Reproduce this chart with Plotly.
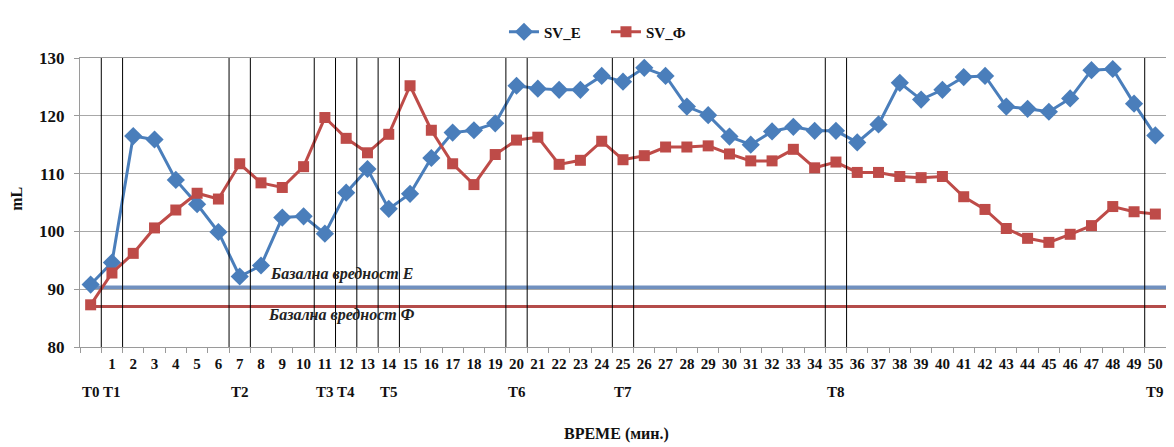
import plotly.graph_objects as go

# ---- data ----
minutes = list(range(0, 51))
tick_labels = [str(i) for i in range(1, 51)]

sv_e = [90.8, 94.6, 116.5, 115.9, 108.9, 104.7, 99.9, 92.2, 94.1, 102.4,
        102.6, 99.6, 106.7, 110.8, 103.9, 106.5, 112.7, 117.1, 117.5, 118.7,
        125.2, 124.7, 124.5, 124.5, 126.9, 125.9, 128.3, 126.9, 121.6, 120.1,
        116.4, 115.0, 117.3, 118.1, 117.4, 117.4, 115.4, 118.5, 125.7, 122.8,
        124.5, 126.7, 126.9, 121.6, 121.2, 120.7, 123.0, 127.9, 128.1, 122.1,
        116.6]
sv_f = [87.3, 92.8, 96.2, 100.6, 103.7, 106.6, 105.6, 111.7, 108.4, 107.6,
        111.2, 119.7, 116.1, 113.6, 116.8, 125.2, 117.5, 111.7, 108.1, 113.3,
        115.8, 116.3, 111.6, 112.3, 115.6, 112.4, 113.1, 114.6, 114.6, 114.8,
        113.4, 112.2, 112.2, 114.2, 111.0, 112.0, 110.2, 110.2, 109.5, 109.3,
        109.5, 106.0, 103.8, 100.5, 98.8, 98.1, 99.5, 101.0, 104.3, 103.4,
        103.0]

baseline_e = 90.3
baseline_f = 87.0

t_names = ["T0", "T1", "T2", "T3", "T4", "T5", "T6", "T7", "T8", "T9"]
t_minutes = [0, 1, 7, 11, 12, 14, 20, 25, 35, 50]

BLUE = "#4A7EBB"
RED = "#BE4B48"
FONT = "Liberation Serif, Times New Roman, serif"

fig = go.Figure()

fig.add_trace(go.Scatter(
    x=minutes, y=sv_e, mode="lines+markers", name="SV_E",
    line=dict(color=BLUE, width=3),
    marker=dict(symbol="diamond", size=14, color=BLUE),
))
fig.add_trace(go.Scatter(
    x=minutes, y=sv_f, mode="lines+markers", name="SV_Ф",
    line=dict(color=RED, width=3),
    marker=dict(symbol="square", size=11, color=RED),
))

xmin, xmax = -0.5, 50.5

# vertical marker lines around each T point
bounds = sorted({t + d for t in t_minutes for d in (-0.5, 0.5)})
for b in bounds:
    if xmin < b < xmax:
        fig.add_shape(type="line", x0=b, x1=b, y0=80, y1=130, xref="x", yref="y",
                      line=dict(color="black", width=1), layer="above")

# baseline lines
fig.add_shape(type="line", x0=0, x1=xmax, y0=baseline_e, y1=baseline_e,
              xref="x", yref="y", line=dict(color="#7090BF", width=4), layer="below")
fig.add_shape(type="line", x0=0, x1=xmax, y0=baseline_f, y1=baseline_f,
              xref="x", yref="y", line=dict(color="#B44C4A", width=3), layer="below")

fig.add_annotation(text="<b><i>Базална вредност Е</i></b>", x=0.1735, xref="paper",
                   y=92.7, yref="y", xanchor="left", yanchor="middle", showarrow=False,
                   font=dict(family=FONT, size=16, color="#222"))
fig.add_annotation(text="<b><i>Базална вредност Ф</i></b>", x=0.1715, xref="paper",
                   y=85.5, yref="y", xanchor="left", yanchor="middle", showarrow=False,
                   font=dict(family=FONT, size=16, color="#222"))

# T labels under the numbers
for name, m in zip(t_names, t_minutes):
    fig.add_annotation(text=name, x=m, xref="x", y=-0.155, yref="paper",
                       xanchor="center", yanchor="middle", showarrow=False,
                       font=dict(family=FONT, size=15, color="#111", weight="bold"))

fig.add_annotation(text="ВРЕМЕ (мин.)",
                   x=0.4936, xref="paper", y=-0.30, yref="paper", showarrow=False,
                   xanchor="center", yanchor="middle",
                   font=dict(family=FONT, size=16, color="#111", weight="bold"))
fig.add_annotation(text="mL", x=-0.058, xref="paper", y=0.513, yref="paper",
                   textangle=-90, showarrow=False, xanchor="center", yanchor="middle",
                   font=dict(family=FONT, size=16, color="#111", weight="bold"))

fig.update_layout(
    width=1166, height=439,
    margin=dict(l=72, r=8, t=39, b=100),
    paper_bgcolor="white", plot_bgcolor="white",
    showlegend=True,
    legend=dict(orientation="h", x=0.3904, xanchor="left", y=1.09, yanchor="middle",
                font=dict(family=FONT, size=15, color="#111", weight="bold"),
                entrywidth=57, bgcolor="rgba(0,0,0,0)"),
    xaxis=dict(range=[xmin, xmax], tickmode="array", tickvals=list(range(1, 51)),
               ticktext=tick_labels, showgrid=False, zeroline=False,
               showline=True, linecolor="#9A9A9A", linewidth=1, mirror=True,
               ticks="", ticklabelstandoff=3,
               minor=dict(tickmode="linear", tick0=0.5, dtick=1, ticks="outside",
                          ticklen=5, tickcolor="#9A9A9A", showgrid=False),
               tickfont=dict(family=FONT, size=15, color="#111", weight="bold")),
    yaxis=dict(range=[80, 130], dtick=10, showgrid=True, gridcolor="#A8A8A8",
               zeroline=False, showline=True, linecolor="#9A9A9A", mirror=True,
               ticks="outside", ticklen=5, tickcolor="#9A9A9A",
               ticklabelstandoff=6,
               tickfont=dict(family=FONT, size=17, color="#111", weight="bold")),
)

fig.write_html("out.html")
